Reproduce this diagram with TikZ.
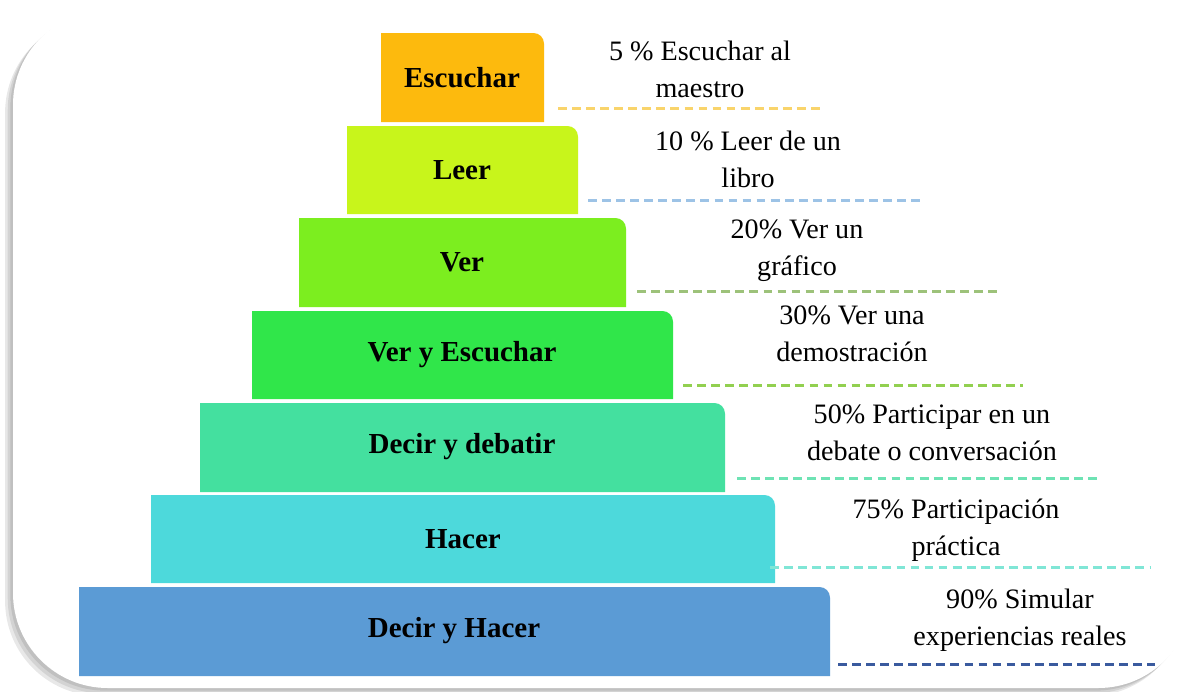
\documentclass[tikz,border=0pt]{standalone}
\usepackage{fontspec}
\setmainfont{Liberation Serif}

\definecolor{escucharc}{HTML}{FDBA0D}
\definecolor{leerc}{HTML}{C8F51B}
\definecolor{verc}{HTML}{7CEE1F}
\definecolor{vyec}{HTML}{30E64A}
\definecolor{debatirc}{HTML}{44E09F}
\definecolor{hacerc}{HTML}{4DD9DB}
\definecolor{dyhc}{HTML}{5B9BD5}

\begin{document}
\begin{tikzpicture}[x=0.02cm, y=-0.02cm,
    bartext/.style={font=\fontsize{16.5}{19}\selectfont\bfseries},
    pct/.style={font=\fontsize{16}{21}\selectfont, align=center},
    guide/.style={line width=1.7pt, dash pattern=on 5pt off 3pt},
    shade/.style={black, opacity=0.09, rounded corners=54pt}]
    \useasboundingbox (0,0) rectangle (1194,691);

    % Soft shadow of the frame
    \fill[shade, xshift=-1.5pt, yshift=-1.5pt] (13,10) rectangle (1193,688);
    \fill[shade, xshift=-3pt, yshift=-3pt] (13,10) rectangle (1193,688);
    \fill[shade, xshift=-4.5pt, yshift=-4.5pt] (13,10) rectangle (1193,688);
    % Frame
    \fill[white, rounded corners=54pt] (13,10) rectangle (1193,688);

    % Steps of the pyramid (top right corner rounded)
    \fill[escucharc] (381,122) -- (381,33) [rounded corners=6pt] -- (544,33) [sharp corners] -- (544,122) -- cycle;
    \fill[leerc] (347,214) -- (347,126) [rounded corners=6pt] -- (578,126) [sharp corners] -- (578,214) -- cycle;
    \fill[verc] (299,307) -- (299,218) [rounded corners=6pt] -- (626,218) [sharp corners] -- (626,307) -- cycle;
    \fill[vyec] (252,399) -- (252,311) [rounded corners=6pt] -- (673,311) [sharp corners] -- (673,399) -- cycle;
    \fill[debatirc] (200,492) -- (200,403) [rounded corners=6pt] -- (725,403) [sharp corners] -- (725,492) -- cycle;
    \fill[hacerc] (151,583) -- (151,495) [rounded corners=6pt] -- (775,495) [sharp corners] -- (775,583) -- cycle;
    \fill[dyhc] (79,676) -- (79,587) [rounded corners=6pt] -- (830,587) [sharp corners] -- (830,676) -- cycle;

    % Step names
    \node[bartext] (escuchar) at (462,78) {Escuchar};
    \node[bartext] (leer) at (462,170) {Leer};
    \node[bartext] (ver) at (462,262) {Ver};
    \node[bartext] (vye) at (462,355) {Ver y Escuchar};
    \node[bartext] (debatir) at (462,447) {Decir y debatir};
    \node[bartext] (hacer) at (463,539) {Hacer};
    \node[bartext] (dyh) at (454,631) {Decir y Hacer};

    % Retention rates
    \node[pct] (p5) at (700,69) {5 \% Escuchar al\\maestro};
    \node[pct] (p10) at (748,159) {10 \% Leer de un\\libro};
    \node[pct] (p20) at (797,251) {20\% Ver un\\gráfico};
    \node[pct] (p30) at (852,334) {30\% Ver una\\demostración};
    \node[pct] (p50) at (932,433) {50\% Participar en un\\debate o conversación};
    \node[pct] (p75) at (956,530) {75\% Participación\\práctica};
    \node[pct] (p90) at (1020,620) {90\% Simular\\experiencias reales};

    % Dashed guide lines under the rates
    \coordinate (g1a) at (558,108);  \coordinate (g1b) at (820,108);
    \coordinate (g2a) at (588,200);  \coordinate (g2b) at (922,200);
    \coordinate (g3a) at (637,291);  \coordinate (g3b) at (997,291);
    \coordinate (g4a) at (683,385);  \coordinate (g4b) at (1023,385);
    \coordinate (g5a) at (737,478);  \coordinate (g5b) at (1100,478);
    \coordinate (g6a) at (770,567);  \coordinate (g6b) at (1150,567);
    \coordinate (g7a) at (838,664);  \coordinate (g7b) at (1155,664);
    \draw[guide, color={rgb,255:red,249;green,212;blue,107}] (g1a) -- (g1b);
    \draw[guide, color={rgb,255:red,157;green,195;blue,230}] (g2a) -- (g2b);
    \draw[guide, color={rgb,255:red,157;green,194;blue,122}] (g3a) -- (g3b);
    \draw[guide, color={rgb,255:red,146;green,208;blue,80}] (g4a) -- (g4b);
    \draw[guide, color={rgb,255:red,110;green,227;blue,180}] (g5a) -- (g5b);
    \draw[guide, color={rgb,255:red,128;green,230;blue,214}] (g6a) -- (g6b);
    \draw[guide, color={rgb,255:red,58;green,90;blue,158}] (g7a) -- (g7b);
\end{tikzpicture}
\end{document}
